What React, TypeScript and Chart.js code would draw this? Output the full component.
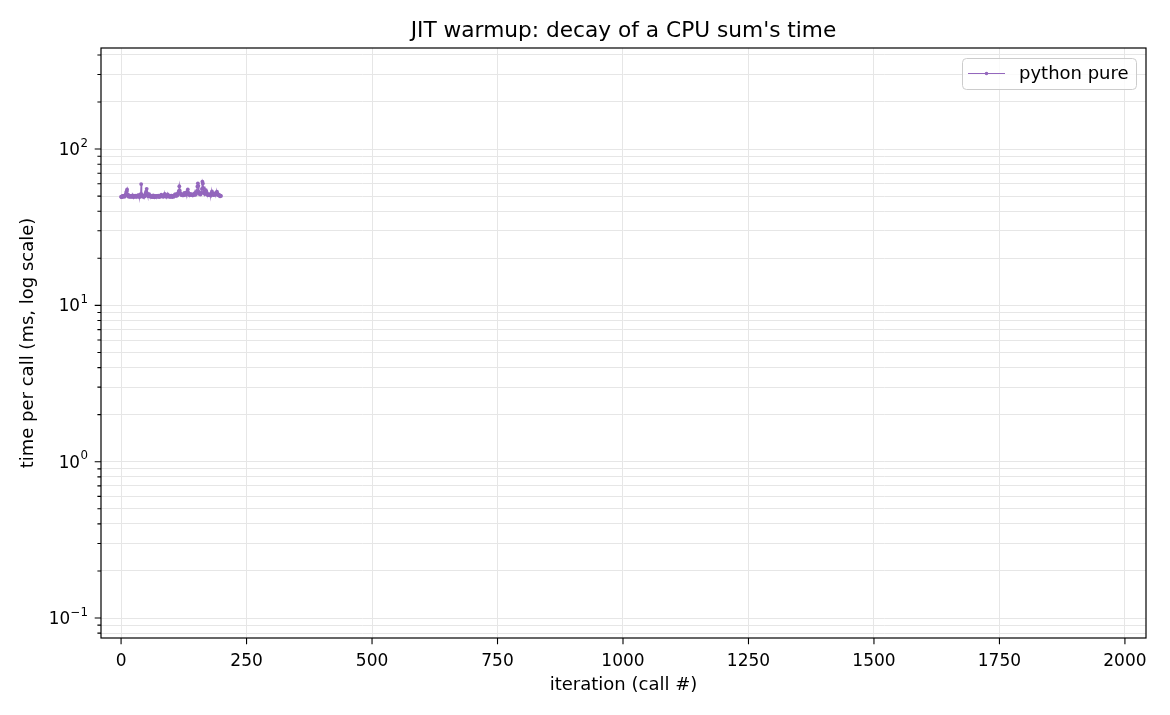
import { useEffect, useRef } from "react"
import { Chart, registerables } from "chart.js"

Chart.register(...registerables)

// time per call (ms) for the pure python run, one value per iteration
const pythonPure = [
  49.6, 49.2, 49.8, 50.1, 49.5, 49.9, 50.4, 49.7, 50.2, 51.0, 52.4, 53.8, 55.2, 51.3, 50.1, 49.6, 49.9, 50.3, 49.4, 49.8,
  50.0, 49.5, 49.9, 50.6, 49.7, 49.3, 50.2, 49.8, 50.4, 49.6, 50.1, 49.5, 49.9, 50.3, 50.8, 49.7, 50.0, 49.4, 51.2, 50.5,
  59.7, 51.4, 50.2, 49.6, 50.0, 49.5, 50.3, 49.8, 50.9, 52.3, 53.6, 55.7, 52.1, 50.4, 49.9, 50.6, 51.4, 50.2, 49.7, 50.1,
  49.5, 50.0, 49.3, 49.8, 50.5, 49.6, 49.2, 49.9, 50.2, 49.4, 49.7, 50.1, 49.5, 49.9, 50.4, 49.8, 49.3, 50.0, 49.6, 50.3,
  51.0, 50.6, 49.8, 50.2, 49.5, 49.9, 50.8, 51.6, 50.4, 49.7, 50.1, 49.6, 50.5, 51.2, 50.3, 49.8, 50.0, 49.4, 49.9, 50.2,
  49.6, 50.1, 49.3, 49.8, 50.4, 49.7, 50.0, 50.9, 51.5, 50.6, 50.2, 51.1, 50.4, 51.8, 52.6, 53.9, 57.8, 54.2, 52.0, 51.3,
  50.8, 51.4, 50.6, 51.0, 50.5, 51.2, 52.4, 51.6, 50.9, 51.3, 52.8, 51.5, 53.2, 55.1, 52.6, 51.4, 50.8, 51.7, 51.2, 50.9,
  51.5, 50.8, 51.1, 50.6, 51.3, 50.9, 51.6, 52.2, 51.0, 51.4, 52.7, 53.9, 57.6, 60.4, 58.2, 53.1, 51.6, 52.3, 51.2, 51.8,
  52.5, 55.6, 61.8, 60.3, 56.4, 53.2, 52.1, 51.5, 52.4, 54.6, 53.3, 51.8, 51.2, 50.7, 51.4, 50.9, 51.3, 50.6, 51.0, 50.4,
  52.2, 53.6, 52.1, 51.3, 50.8, 51.5, 50.9, 51.6, 52.3, 51.4, 52.7, 53.3, 52.0, 51.2, 50.6, 51.1, 50.5, 49.9, 50.3, 50.1,
]

const xTicks = [0, 250, 500, 750, 1000, 1250, 1500, 1750, 2000]
const yDecades = [0.1, 1, 10, 100]
const yExponents = ["−1", "0", "1", "2"]

const COLOR = "#9467bd"
const FONT = "'DejaVu Sans', sans-serif"

// plot box in page pixels
const LEFT = 101
const RIGHT = 24
const TOP = 48
const BOTTOM = 77

function logTicks(min: number, max: number) {
  const out: { value: number; major: boolean }[] = []
  for (let e = -2; e <= 3; e++) {
    for (let m = 1; m <= 9; m++) {
      const v = +(m * Math.pow(10, e)).toPrecision(3)
      if (v >= min && v <= max) out.push({ value: v, major: m === 1 })
    }
  }
  return out
}

const decorations = {
  id: "decorations",
  afterDraw(chart: any) {
    const { ctx, chartArea: a, scales } = chart
    ctx.save()
    // spines
    ctx.strokeStyle = "#000"
    ctx.lineWidth = 1.2
    ctx.strokeRect(a.left, a.top, a.right - a.left, a.bottom - a.top)

    // tick marks
    ctx.lineWidth = 1.1
    ctx.beginPath()
    for (const t of scales.x.ticks) {
      const px = scales.x.getPixelForValue(t.value)
      ctx.moveTo(px, a.bottom)
      ctx.lineTo(px, a.bottom + 6.3)
    }
    for (const t of scales.y.ticks) {
      const py = scales.y.getPixelForValue(t.value)
      ctx.moveTo(a.left, py)
      ctx.lineTo(a.left - (t.major ? 6.3 : 3.6), py)
    }
    ctx.stroke()

    // y decade labels as 10 with a raised exponent
    ctx.fillStyle = "#000"
    ctx.textBaseline = "middle"
    ctx.textAlign = "left"
    yDecades.forEach((d, i) => {
      const py = scales.y.getPixelForValue(d)
      const right = a.left - 13
      ctx.font = `11.8px ${FONT}`
      const w2 = ctx.measureText(yExponents[i]).width
      ctx.fillText(yExponents[i], right - w2, py - 5.5)
      ctx.font = `16.8px ${FONT}`
      const w1 = ctx.measureText("10").width
      ctx.fillText("10", right - w2 - w1 - 0.5, py + 1.5)
    })

    // title and axis labels
    ctx.textAlign = "center"
    ctx.font = `21.7px ${FONT}`
    ctx.fillText("JIT warmup: decay of a CPU sum's time", (a.left + a.right) / 2, 31)
    ctx.font = `18px ${FONT}`
    ctx.fillText("iteration (call #)", (a.left + a.right) / 2, 685)
    ctx.save()
    ctx.translate(28, (a.top + a.bottom) / 2)
    ctx.rotate(-Math.PI / 2)
    ctx.fillText("time per call (ms, log scale)", 0, 0)
    ctx.restore()

    // legend
    const lx = 962, ly = 58, lw = 174, lh = 31
    ctx.fillStyle = "rgba(255,255,255,0.8)"
    ctx.strokeStyle = "#cccccc"
    ctx.lineWidth = 1
    ctx.beginPath()
    ctx.roundRect(lx + 0.5, ly + 0.5, lw, lh, 4)
    ctx.fill()
    ctx.stroke()
    ctx.strokeStyle = COLOR
    ctx.lineWidth = 1.2
    ctx.beginPath()
    ctx.moveTo(968, 73.5)
    ctx.lineTo(1005, 73.5)
    ctx.stroke()
    ctx.fillStyle = COLOR
    ctx.beginPath()
    ctx.arc(986.5, 73.5, 1.8, 0, Math.PI * 2)
    ctx.fill()
    ctx.fillStyle = "#000"
    ctx.textAlign = "left"
    ctx.font = `18px ${FONT}`
    ctx.fillText("python pure", 1019, 74)
    ctx.restore()
  },
}

export default function App() {
  const canvasRef = useRef<HTMLCanvasElement>(null)
  const chartRef = useRef<Chart | null>(null)

  useEffect(() => {
    document.body.style.margin = "0"
    if (!canvasRef.current) return
    if (chartRef.current) chartRef.current.destroy()

    const points = pythonPure.map((v, i) => ({ x: i, y: v }))

    chartRef.current = new Chart(canvasRef.current, {
      type: "line",
      data: {
        datasets: [
          {
            label: "python pure",
            data: points,
            borderColor: COLOR,
            backgroundColor: COLOR,
            borderWidth: 1.3,
            pointRadius: 1.9,
            pointBorderWidth: 0,
            pointBackgroundColor: COLOR,
            tension: 0,
          },
        ],
      },
      options: {
        animation: false,
        responsive: true,
        maintainAspectRatio: false,
        devicePixelRatio: 1,
        layout: { padding: { top: TOP, right: RIGHT, bottom: 0, left: 0 } },
        plugins: {
          legend: { display: false },
          title: { display: false },
          tooltip: { enabled: false },
        },
        scales: {
          x: {
            type: "linear",
            min: -40,
            max: 2042,
            afterBuildTicks: (s: any) => {
              s.ticks = xTicks.map((v) => ({ value: v }))
            },
            afterFit: (s: any) => {
              s.height = BOTTOM
            },
            grid: { color: "#e6e6e6", lineWidth: 1, drawTicks: false },
            border: { display: false },
            ticks: {
              color: "#000",
              padding: 13,
              maxRotation: 0,
              autoSkip: false,
              font: { family: FONT, size: 17 },
              callback: (v: any) => String(v),
            },
          },
          y: {
            type: "logarithmic",
            min: 0.0745,
            max: 443,
            afterBuildTicks: (s: any) => {
              s.ticks = logTicks(0.0745, 443)
            },
            afterFit: (s: any) => {
              s.width = LEFT
            },
            grid: { color: "#e6e6e6", lineWidth: 1, drawTicks: false },
            border: { display: false },
            ticks: {
              display: false,
            },
          },
        },
      },
      plugins: [decorations],
    })

    return () => {
      if (chartRef.current) {
        chartRef.current.destroy()
        chartRef.current = null
      }
    }
  }, [])

  return (
    <div style={{ width: 1170, height: 715, position: "relative", background: "#fff" }}>
      <canvas ref={canvasRef}></canvas>
    </div>
  )
}
